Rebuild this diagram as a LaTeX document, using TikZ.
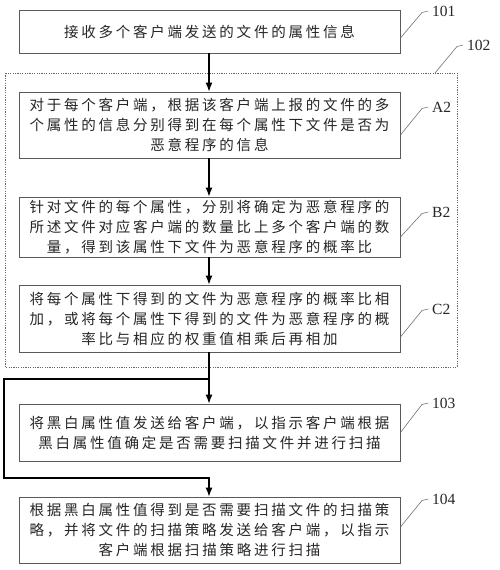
\documentclass[tikz,border=0pt]{standalone}
\usepackage{fontspec}
\setmainfont{Liberation Serif}
\newfontfamily\cjk[LetterSpace=19]{Noto Sans CJK SC}
\usetikzlibrary{arrows.meta}
\begin{document}
\begin{tikzpicture}[x=1pt,y=-1pt,
  box/.style={draw=black!65, line width=0.9pt, minimum width=381pt, inner sep=0pt,
    align=center, text=black!85, font=\cjk\fontsize{14.5}{20}\selectfont},
  lab/.style={anchor=west, inner xsep=4pt, inner ysep=0pt, text=black!85,
    font=\fontsize{15.5}{16}\selectfont},
  leader/.style={draw=black!55, line width=0.6pt},
  arr/.style={draw=black, line width=1.1pt, -{Latex[length=9pt,width=7pt]}},
  dashbox/.style={draw=black!60, line width=0.7pt, dash pattern=on 1.2pt off 1.2pt}]
\useasboundingbox (0,0) rectangle (500,570);
\fill[white] (0,0) rectangle (500,570);

% dashed group 102
\draw[dashbox] (5,73) rectangle (457,367);
\coordinate (g102) at (435,73);

\node[box, minimum height=43pt] (b101) at (209.5,31.5) {接收多个客户端发送的文件的属性信息};
\node[box, minimum height=66pt] (bA2) at (209.5,125) {对于每个客户端，根据该客户端上报的文件的多\\个属性的信息分别得到在每个属性下文件是否为\\恶意程序的信息};
\node[box, minimum height=60pt] (bB2) at (209.5,227) {针对文件的每个属性，分别将确定为恶意程序的\\所述文件对应客户端的数量比上多个客户端的数\\量，得到该属性下文件为恶意程序的概率比};
\node[box, minimum height=67pt] (bC2) at (209.5,318.5) {将每个属性下得到的文件为恶意程序的概率比相\\加，或将每个属性下得到的文件为恶意程序的概\\率比与相应的权重值相乘后再相加};
\node[box, minimum height=57pt] (b103) at (209.5,432.5) {将黑白属性值发送给客户端，以指示客户端根据\\黑白属性值确定是否需要扫描文件并进行扫描};
\node[box, minimum height=66pt] (b104) at (209.5,530) {根据黑白属性值得到是否需要扫描文件的扫描策\\略，并将文件的扫描策略发送给客户端，以指示\\客户端根据扫描策略进行扫描};

% labels
\node[lab] (l101) at (428,11) {101};
\node[lab] (l102) at (463,45) {102};
\node[lab] (lA2) at (428,107) {A2};
\node[lab] (lB2) at (428,212) {B2};
\node[lab] (lC2) at (428,309) {C2};
\node[lab] (l103) at (428,403) {103};
\node[lab] (l104) at (428,499) {104};

% leaders
\draw[leader] ([yshift=-6.5pt]b101.east) -- ([xshift=-6pt,yshift=-1.5pt]l101.west) -- (l101.west);
\draw[leader] (g102) -- ([xshift=-6pt,yshift=-1.5pt]l102.west) -- (l102.west);
\draw[leader] ([yshift=-10pt]bA2.east) -- ([xshift=-6pt,yshift=-1.5pt]lA2.west) -- (lA2.west);
\draw[leader] ([yshift=-10pt]bB2.east) -- ([xshift=-6pt,yshift=-1.5pt]lB2.west) -- (lB2.west);
\draw[leader] ([yshift=-18.5pt]bC2.east) -- ([xshift=-6pt,yshift=-1.5pt]lC2.west) -- (lC2.west);
\draw[leader] ([yshift=0pt]b103.east) -- ([xshift=-6pt,yshift=-1.5pt]l103.west) -- (l103.west);
\draw[leader] ([yshift=3pt]b104.east) -- ([xshift=-6pt,yshift=-1.5pt]l104.west) -- (l104.west);

% arrows
\draw[arr] (b101.south -| 209,0) -- (bA2.north -| 209,0);
\draw[arr] (bA2.south -| 209,0) -- (bB2.north -| 209,0);
\draw[arr] (bB2.south -| 209,0) -- (bC2.north -| 209,0);
\draw[arr] (bC2.south -| 209,0) -- (b103.north -| 209,0);
\coordinate (j1) at (209,379);
\coordinate (j2) at (209,478);
\draw[arr] (j1) -- (4,379) -- (4,478) -- (j2) -- (b104.north -| 209,0);
\end{tikzpicture}
\end{document}
